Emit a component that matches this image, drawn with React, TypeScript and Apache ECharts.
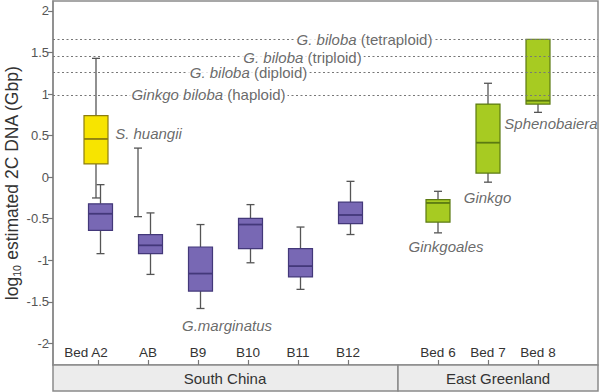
import React, { useEffect, useRef } from "react";
import * as echarts from "echarts";

// ---- data ----
const categories = ["Bed A2", "AB", "B9", "B10", "B11", "B12", "Bed 6", "Bed 7", "Bed 8"];
const regionNames = ["South China", "East Greenland"];

// box stats: [min, Q1, median, Q3, max] (log10 Gbp)
const marginatusBeds = ["Bed A2", "AB", "B9", "B10", "B11", "B12"];
const marginatusStats = [
  [-0.92, -0.64, -0.44, -0.32, -0.09],
  [-1.17, -0.92, -0.82, -0.69, -0.43],
  [-1.58, -1.37, -1.16, -0.84, -0.57],
  [-1.03, -0.86, -0.57, -0.495, -0.33],
  [-1.35, -1.2, -1.07, -0.86, -0.6],
  [-0.69, -0.56, -0.455, -0.3, -0.05],
];
const huangiiBed = "Bed A2";
const huangiiStats = [-0.25, 0.16, 0.46, 0.74, 1.43];
const abRangeBed = "AB";
const abRange = [-0.475, 0.35];
const greenBeds = ["Bed 6", "Bed 7", "Bed 8"];
const greenStats = [
  [-0.67, -0.54, -0.31, -0.27, -0.17],
  [-0.06, 0.05, 0.415, 0.88, 1.13],
  [0.78, 0.88, 0.92, 1.66, 1.66],
];

// Ginkgo biloba reference genome sizes
const refValues = [0.99, 1.26, 1.445, 1.66];
const refItalic = ["Ginkgo biloba", "G. biloba", "G. biloba", "G. biloba"];
const refPloidy = ["(haploid)", "(diploid)", "(triploid)", "(tetraploid)"];

const yTicks = [-2, -1.5, -1, -0.5, 0, 0.5, 1, 1.5, 2];

// ---- layout helpers (not data) ----
const slotOf = (bed: string) => {
  const i = categories.indexOf(bed);
  return i < 6 ? i : i + 0.8;
};
const slots = categories.map((c) => slotOf(c));
const FONT = "'Liberation Sans', Arial, sans-serif";

function boxRender(fill: string, border: string, shift: number) {
  return (params: any, api: any) => {
    const x = api.value(0) + shift;
    const [mn, q1, md, q3, mx] = [1, 2, 3, 4, 5].map((d) => api.value(d));
    const pMax = api.coord([x, mx]);
    const pQ3 = api.coord([x, q3]);
    const pMd = api.coord([x, md]);
    const pQ1 = api.coord([x, q1]);
    const pMin = api.coord([x, mn]);
    const hw = api.size([0.48, 0])[0] / 2;
    const cap = 4;
    const ls = { stroke: "#555", lineWidth: 1.3 };
    const children: any[] = [];
    if (mx > q3) {
      children.push({ type: "line", shape: { x1: pMax[0], y1: pMax[1], x2: pQ3[0], y2: pQ3[1] }, style: ls });
      children.push({ type: "line", shape: { x1: pMax[0] - cap, y1: pMax[1], x2: pMax[0] + cap, y2: pMax[1] }, style: ls });
    }
    if (mn < q1) {
      children.push({ type: "line", shape: { x1: pMin[0], y1: pMin[1], x2: pQ1[0], y2: pQ1[1] }, style: ls });
      children.push({ type: "line", shape: { x1: pMin[0] - cap, y1: pMin[1], x2: pMin[0] + cap, y2: pMin[1] }, style: ls });
    }
    children.push({
      type: "rect",
      shape: { x: pQ3[0] - hw, y: pQ3[1], width: hw * 2, height: pQ1[1] - pQ3[1] },
      style: { fill, stroke: border, lineWidth: 1.2 },
    });
    children.push({
      type: "line",
      shape: { x1: pMd[0] - hw, y1: pMd[1], x2: pMd[0] + hw, y2: pMd[1] },
      style: { stroke: border, lineWidth: 1.8 },
    });
    return { type: "group", children };
  };
}

function rangeRender(shift: number) {
  return (params: any, api: any) => {
    const x = api.value(0) + shift;
    const a = api.coord([x, api.value(1)]);
    const b = api.coord([x, api.value(2)]);
    const cap = 4;
    const ls = { stroke: "#555", lineWidth: 1.3 };
    return {
      type: "group",
      children: [
        { type: "line", shape: { x1: a[0], y1: a[1], x2: b[0], y2: b[1] }, style: ls },
        { type: "line", shape: { x1: a[0] - cap, y1: a[1], x2: a[0] + cap, y2: a[1] }, style: ls },
        { type: "line", shape: { x1: b[0] - cap, y1: b[1], x2: b[0] + cap, y2: b[1] }, style: ls },
      ],
    };
  };
}

export default function App() {
  const ref = useRef<HTMLDivElement>(null);
  useEffect(() => {
    const chart = echarts.init(ref.current!, null, { renderer: "svg" });
    const italicLabel = (name: string, x: number, y: number) => ({
      value: [x, y],
      label: { formatter: name },
    });
    chart.setOption({
      animation: false,
      backgroundColor: "#fff",
      textStyle: { fontFamily: FONT },
      grid: {
        left: 53,
        right: 2,
        top: 1,
        bottom: 27,
        containLabel: false,
        outerBoundsMode: "none",
        show: true,
        borderColor: "#8a8a8a",
        borderWidth: 1.5,
      },
      xAxis: {
        type: "value",
        min: -0.9,
        max: 10.0,
        splitLine: { show: false },
        axisLine: { show: false, onZero: false },
        axisTick: { show: true, inside: true, length: 5, customValues: slots, lineStyle: { color: "#777", width: 1.2 } },
        axisLabel: {
          inside: true,
          margin: 6,
          customValues: slots,
          color: "#333",
          fontSize: 13.5,
          fontFamily: FONT,
          formatter: (v: number) => {
            const i = slots.findIndex((s) => Math.abs(s - v) < 1e-6);
            if (i < 0) return "";
            if (i === 0) return "{a|" + categories[i] + "}{g| }";
            return categories[i];
          },
          rich: {
            a: { fontSize: 13.5, color: "#333", fontFamily: FONT },
            g: { fontSize: 13.5, width: 24 },
          },
        },
      },
      yAxis: {
        type: "value",
        min: -2.26,
        max: 2.12,
        splitLine: { show: false },
        axisLine: { show: true, onZero: false, lineStyle: { color: "#8a8a8a", width: 1.5 } },
        axisTick: { show: true, length: 5, customValues: yTicks, lineStyle: { color: "#777", width: 1.2 } },
        axisLabel: { customValues: yTicks, color: "#555", fontSize: 13, margin: 4, fontFamily: FONT },
        name: "log{sub|10} estimated 2C DNA (Gbp)",
        nameLocation: "middle",
        nameRotate: 90,
        nameGap: 31,
        nameMoveOverlap: false,
        nameTextStyle: {
          fontSize: 17.5,
          color: "#333",
          fontFamily: FONT,
          lineHeight: 20,
          rich: { sub: { fontSize: 10.5, color: "#333", fontFamily: FONT, verticalAlign: "bottom", lineHeight: 20 } },
        },
      },
      series: [
        {
          type: "custom",
          name: "AB range",
          renderItem: rangeRender(-0.2),
          encode: { x: 0, y: [1, 2] },
          data: [[slotOf(abRangeBed), abRange[0], abRange[1]]],
          z: 2,
          markLine: {
            silent: true,
            symbol: "none",
            label: { show: false },
            lineStyle: { color: "#777", type: [2, 2.5], width: 1.1 },
            data: refValues.map((v) => ({ yAxis: v })),
          },
        },
        {
          type: "custom",
          name: "S. huangii",
          renderItem: boxRender("#f7e400", "#8c7d10", -0.04),
          encode: { x: 0, y: [1, 2, 3, 4, 5] },
          data: [[slotOf(huangiiBed), ...huangiiStats]],
          z: 3,
        },
        {
          type: "custom",
          name: "G. marginatus",
          renderItem: boxRender("#7868b4", "#43387a", 0.05),
          encode: { x: 0, y: [1, 2, 3, 4, 5] },
          data: marginatusBeds.map((b, i) => [slotOf(b), ...marginatusStats[i]]),
          z: 3,
        },
        {
          type: "custom",
          name: "Ginkgoales",
          renderItem: boxRender("#a7cb22", "#5b7a12", 0),
          encode: { x: 0, y: [1, 2, 3, 4, 5] },
          data: greenBeds.map((b, i) => [slotOf(b), ...greenStats[i]]),
          z: 3,
        },
        {
          type: "scatter",
          name: "reference labels",
          symbolSize: 0,
          silent: true,
          z: 5,
          label: {
            show: true,
            position: "inside",
            color: "#444",
            fontSize: 15,
            fontFamily: FONT,
            backgroundColor: "#fff",
            padding: [1, 2],
            rich: { i: { fontStyle: "italic", fontSize: 15, color: "#444", fontFamily: FONT } },
          },
          data: [
            { value: [2.21, refValues[0]], label: { formatter: `{i|${refItalic[0]}} ${refPloidy[0]}` } },
            { value: [3.01, refValues[1]], label: { formatter: `{i|${refItalic[1]}} ${refPloidy[1]}` } },
            { value: [4.09, refValues[2]], label: { formatter: `{i|${refItalic[2]}} ${refPloidy[2]}` } },
            { value: [5.33, refValues[3]], label: { formatter: `{i|${refItalic[3]}} ${refPloidy[3]}` } },
          ],
        },
        {
          type: "scatter",
          name: "taxon labels",
          symbolSize: 0,
          silent: true,
          z: 5,
          label: {
            show: true,
            position: "inside",
            color: "#444",
            fontSize: 15,
            fontStyle: "italic",
            fontFamily: FONT,
          },
          data: [
            italicLabel("S. huangii", 1.01, 0.53),
            italicLabel("G.marginatus", 2.58, -1.79),
            italicLabel("Ginkgoales", 6.96, -0.84),
            italicLabel("Ginkgo", 7.79, -0.25),
            italicLabel("Sphenobaiera", 9.06, 0.65),
          ],
        },
      ],
      graphic: [
        {
          type: "rect",
          shape: { x: 53, y: 365, width: 345, height: 26 },
          style: { fill: "#ececec", stroke: "#8a8a8a", lineWidth: 1.5 },
        },
        {
          type: "rect",
          shape: { x: 398, y: 365, width: 200, height: 26 },
          style: { fill: "#ececec", stroke: "#8a8a8a", lineWidth: 1.5 },
        },
        {
          type: "text",
          x: 225,
          y: 378,
          style: { text: regionNames[0], fill: "#333", fontSize: 15, fontFamily: FONT, align: "center", verticalAlign: "middle" },
        },
        {
          type: "text",
          x: 498,
          y: 378,
          style: { text: regionNames[1], fill: "#333", fontSize: 15, fontFamily: FONT, align: "center", verticalAlign: "middle" },
        },
      ],
    });
    return () => chart.dispose();
  }, []);
  return (
    <div
      ref={ref}
      style={{ position: "fixed", left: 0, top: 0, width: 600, height: 392, background: "#fff" }}
    />
  );
}
